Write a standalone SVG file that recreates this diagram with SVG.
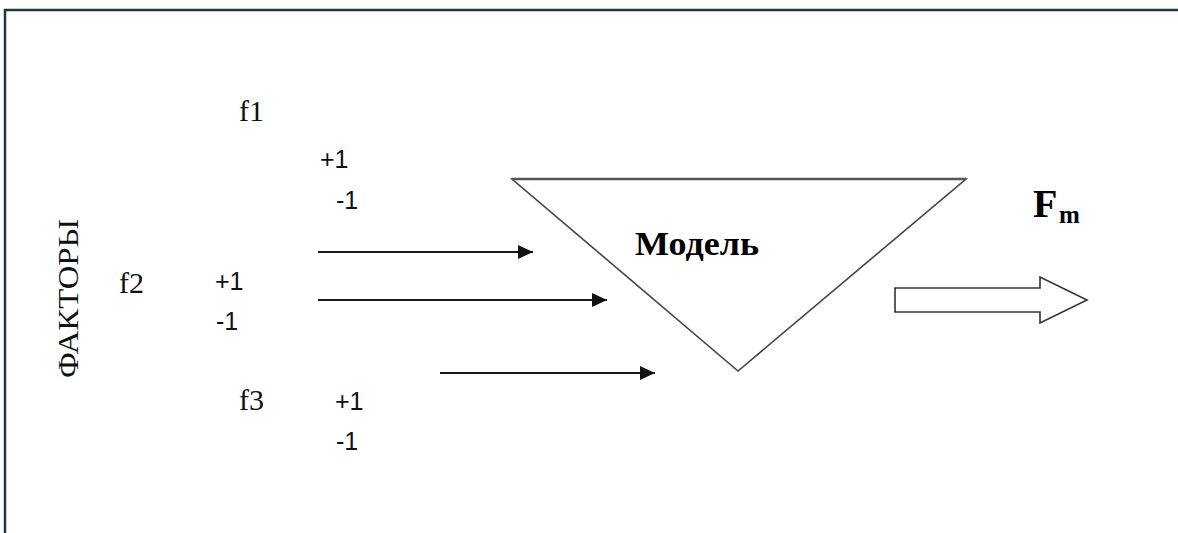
<svg xmlns="http://www.w3.org/2000/svg" width="1178" height="533" viewBox="0 0 1178 533">
<style>
.lbl{font-family:"Liberation Serif","Times New Roman",serif;font-size:30px;fill:#111}
.val{font-family:"Liberation Sans",Arial,sans-serif;font-size:25px;fill:#111}
.bold{font-family:"Liberation Serif","Times New Roman",serif;font-weight:bold;fill:#000}
.conn{stroke:#1a1a1a;stroke-width:2;fill:none}
</style>
<defs>
<marker id="ah" markerWidth="15" markerHeight="14" refX="15" refY="7" orient="auto" markerUnits="userSpaceOnUse">
<path d="M0,0 L15,7 L0,14 Z" fill="#111"/>
</marker>
</defs>
<rect x="0" y="0" width="1178" height="533" fill="#ffffff"/>
<g id="frame">
<line x1="4" y1="10" x2="1178" y2="10" stroke="#1d3a3c" stroke-width="2.5"/>
<line x1="5" y1="9" x2="5" y2="533" stroke="#1d3a3c" stroke-width="2.5"/>
</g>
<g id="factors-label">
<text class="lbl" font-size="32" transform="translate(78,378) rotate(-90)" textLength="159" lengthAdjust="spacingAndGlyphs">ФАКТОРЫ</text>
</g>
<g id="f1">
<text class="lbl" x="239" y="121">f1</text>
<text class="val" x="320" y="168">+1</text>
<text class="val" x="336" y="209">-1</text>
</g>
<g id="f2">
<text class="lbl" x="119" y="293">f2</text>
<text class="val" x="215" y="290">+1</text>
<text class="val" x="216" y="330">-1</text>
</g>
<g id="f3">
<text class="lbl" x="239" y="410">f3</text>
<text class="val" x="335" y="410">+1</text>
<text class="val" x="336" y="450">-1</text>
</g>
<g id="model">
<polygon points="512,179 966,179 738,371" fill="none" stroke="#444" stroke-width="1.6"/>
<line x1="512" y1="179" x2="966" y2="179" stroke="#555" stroke-width="2.6"/>
<text class="bold" x="635" y="255" font-size="34" textLength="124" lengthAdjust="spacingAndGlyphs">Модель</text>
</g>
<g id="output">
<text class="bold" x="1033" y="217" font-size="40">F</text>
<text class="bold" x="1059" y="223" font-size="25">m</text>
<polygon points="895,288 1040,288 1040,277 1087,300 1040,323 1040,312 895,312" fill="#fff" stroke="#333" stroke-width="1.6"/>
</g>
<g id="connectors">
<line class="conn" x1="318" y1="252" x2="533" y2="252" marker-end="url(#ah)"/>
<line class="conn" x1="318" y1="300" x2="607" y2="300" marker-end="url(#ah)"/>
<line class="conn" x1="440" y1="373" x2="655" y2="373" marker-end="url(#ah)"/>
</g>
</svg>
